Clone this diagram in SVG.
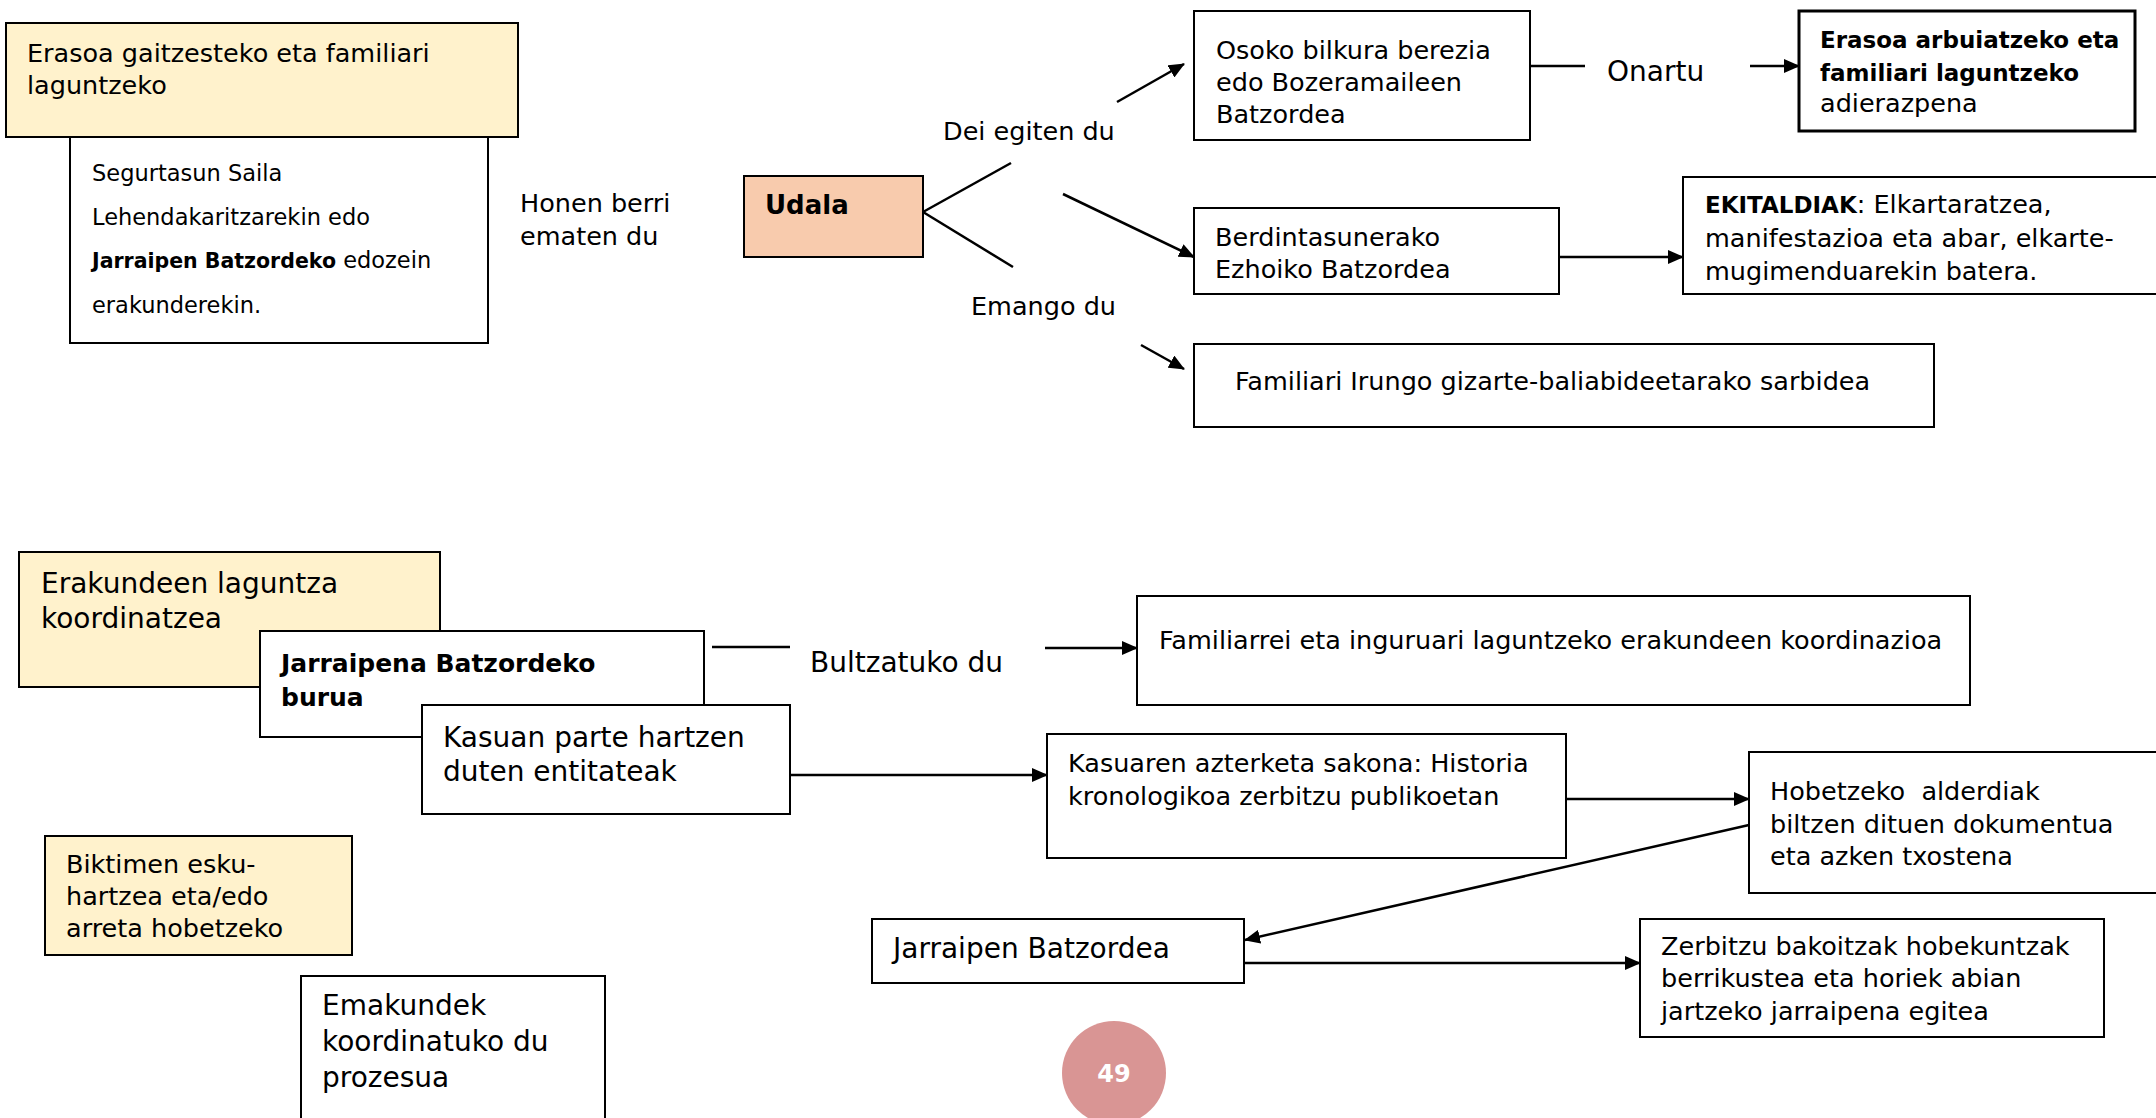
<svg xmlns="http://www.w3.org/2000/svg" width="2156" height="1118" viewBox="0 0 2156 1118">
<style>
text{font-family:"DejaVu Sans","Liberation Sans",sans-serif;fill:#000}
.t{font-size:25.5px}
.tl{font-size:28px}
.ts{font-size:22.5px}
.b{font-weight:bold}
.box{fill:#fff;stroke:#000;stroke-width:2}
.yel{fill:#FFF2CC;stroke:#000;stroke-width:2}
.ln{stroke:#000;stroke-width:2.5;fill:none}
.ar{stroke:#000;stroke-width:2.5;fill:none;marker-end:url(#ah)}
</style>
<defs>
<marker id="ah" markerUnits="userSpaceOnUse" markerWidth="16" markerHeight="14" refX="15" refY="7" orient="auto">
<path d="M0,0 L16,7 L0,14 Z" fill="#000"/>
</marker>
</defs>

<g id="n-erasoa-gaitzesteko">
<rect class="yel" x="6" y="23" width="512" height="114"/>
<text class="t" x="27" y="62">Erasoa gaitzesteko eta familiari<tspan x="27" y="94">laguntzeko</tspan></text>
</g>
<g id="n-segurtasun">
<rect class="box" x="70" y="137" width="418" height="206"/>
<text class="ts" x="92" y="181">Segurtasun Saila</text>
<text class="ts" x="92" y="225">Lehendakaritzarekin edo</text>
<text class="ts" x="92" y="268"><tspan class="b" font-size="20.5px">Jarraipen Batzordeko</tspan> edozein</text>
<text class="ts" x="92" y="313">erakunderekin.</text>
</g>
<g id="n-honen">
<text class="t" x="520" y="212">Honen berri<tspan x="520" y="245">ematen du</tspan></text>
</g>
<g id="n-udala">
<rect x="744" y="176" width="179" height="81" fill="#F8CBAD" stroke="#000" stroke-width="2"/>
<text class="b" font-size="26px" x="765" y="214">Udala</text>
</g>
<g id="n-dei">
<text class="t" x="943" y="140">Dei egiten du</text>
</g>
<g id="n-emango">
<text class="t" x="971" y="315">Emango du</text>
</g>
<g id="n-osoko">
<rect class="box" x="1194" y="11" width="336" height="129"/>
<text class="t" x="1216" y="59">Osoko bilkura berezia<tspan x="1216" y="91">edo Bozeramaileen</tspan><tspan x="1216" y="123">Batzordea</tspan></text>
</g>
<g id="n-onartu">
<text class="tl" x="1607" y="81">Onartu</text>
</g>
<g id="n-erasoa-arbuiatzeko">
<rect x="1799" y="11" width="336" height="120" fill="#fff" stroke="#000" stroke-width="3"/>
<text class="b" font-size="23px" x="1820" y="48">Erasoa arbuiatzeko eta<tspan x="1820" y="81">familiari laguntzeko</tspan></text>
<text class="t" x="1820" y="112">adierazpena</text>
</g>
<g id="n-berdintasunerako">
<rect class="box" x="1194" y="208" width="365" height="86"/>
<text class="t" x="1215" y="246">Berdintasunerako<tspan x="1215" y="278">Ezhoiko Batzordea</tspan></text>
</g>
<g id="n-ekitaldiak">
<rect class="box" x="1683" y="177" width="480" height="117"/>
<text class="t" x="1705" y="213"><tspan class="b" font-size="23px">EKITALDIAK</tspan>: Elkartaratzea,</text>
<text class="t" x="1705" y="247">manifestazioa eta abar, elkarte-</text>
<text class="t" x="1705" y="280">mugimenduarekin batera.</text>
</g>
<g id="n-familiari-irungo">
<rect class="box" x="1194" y="344" width="740" height="83"/>
<text class="t" x="1235" y="390">Familiari Irungo gizarte-baliabideetarako sarbidea</text>
</g>

<g id="n-erakundeen">
<rect class="yel" x="19" y="552" width="421" height="135"/>
<text class="tl" x="41" y="593">Erakundeen laguntza<tspan x="41" y="628">koordinatzea</tspan></text>
</g>
<g id="n-jarraipena-burua">
<rect class="box" x="260" y="631" width="444" height="106"/>
<text class="b" font-size="25px" x="281" y="672">Jarraipena Batzordeko<tspan x="281" y="706">burua</tspan></text>
</g>
<g id="n-kasuan">
<rect class="box" x="422" y="705" width="368" height="109"/>
<text class="tl" x="443" y="747">Kasuan parte hartzen<tspan x="443" y="781">duten entitateak</tspan></text>
</g>
<g id="n-bultzatuko">
<text class="tl" x="810" y="672">Bultzatuko du</text>
</g>
<g id="n-familiarrei">
<rect class="box" x="1137" y="596" width="833" height="109"/>
<text class="t" x="1159" y="649">Familiarrei eta inguruari laguntzeko erakundeen koordinazioa</text>
</g>
<g id="n-kasuaren">
<rect class="box" x="1047" y="734" width="519" height="124"/>
<text class="t" x="1068" y="772">Kasuaren azterketa sakona: Historia<tspan x="1068" y="805">kronologikoa zerbitzu publikoetan</tspan></text>
</g>
<g id="n-hobetzeko">
<rect class="box" x="1749" y="752" width="420" height="141"/>
<text class="t" x="1770" y="800" xml:space="preserve">Hobetzeko  alderdiak</text>
<text class="t" x="1770" y="833">biltzen dituen dokumentua</text>
<text class="t" x="1770" y="865">eta azken txostena</text>
</g>
<g id="n-biktimen">
<rect class="yel" x="45" y="836" width="307" height="119"/>
<text class="t" font-size="26px" x="66" y="873">Biktimen esku-<tspan x="66" y="905">hartzea eta/edo</tspan><tspan x="66" y="937">arreta hobetzeko</tspan></text>
</g>
<g id="n-emakundek">
<rect class="box" x="301" y="976" width="304" height="160"/>
<text class="tl" x="322" y="1015">Emakundek<tspan x="322" y="1051">koordinatuko du</tspan><tspan x="322" y="1087">prozesua</tspan></text>
</g>
<g id="n-jarraipen-batzordea">
<rect class="box" x="872" y="919" width="372" height="64"/>
<text class="tl" x="893" y="958">Jarraipen Batzordea</text>
</g>
<g id="n-zerbitzu">
<rect class="box" x="1640" y="919" width="464" height="118"/>
<text class="t" x="1661" y="955">Zerbitzu bakoitzak hobekuntzak<tspan x="1661" y="987">berrikustea eta horiek abian</tspan><tspan x="1661" y="1020">jartzeko jarraipena egitea</tspan></text>
</g>
<g id="n-page">
<circle cx="1114" cy="1073" r="52" fill="#D99594"/>
<text x="1114" y="1082" text-anchor="middle" font-size="24px" font-weight="bold" style="fill:#fff">49</text>
</g>

<g id="connectors">
<line class="ln" x1="923" y1="212" x2="1011" y2="163"/>
<line class="ln" x1="923" y1="212" x2="1013" y2="267"/>
<line class="ar" x1="1117" y1="102" x2="1184" y2="64"/>
<line class="ar" x1="1063" y1="194" x2="1194" y2="257"/>
<line class="ar" x1="1141" y1="345" x2="1184" y2="369"/>
<line class="ln" x1="1530" y1="66" x2="1585" y2="66"/>
<line class="ar" x1="1750" y1="66" x2="1799" y2="66"/>
<line class="ar" x1="1559" y1="257" x2="1683" y2="257"/>
<line class="ln" x1="712" y1="647" x2="790" y2="647"/>
<line class="ar" x1="1045" y1="648" x2="1137" y2="648"/>
<line class="ar" x1="790" y1="775" x2="1047" y2="775"/>
<line class="ar" x1="1566" y1="799" x2="1749" y2="799"/>
<line class="ar" x1="1749" y1="825" x2="1245" y2="940"/>
<line class="ar" x1="1244" y1="963" x2="1640" y2="963"/>
</g>
</svg>
